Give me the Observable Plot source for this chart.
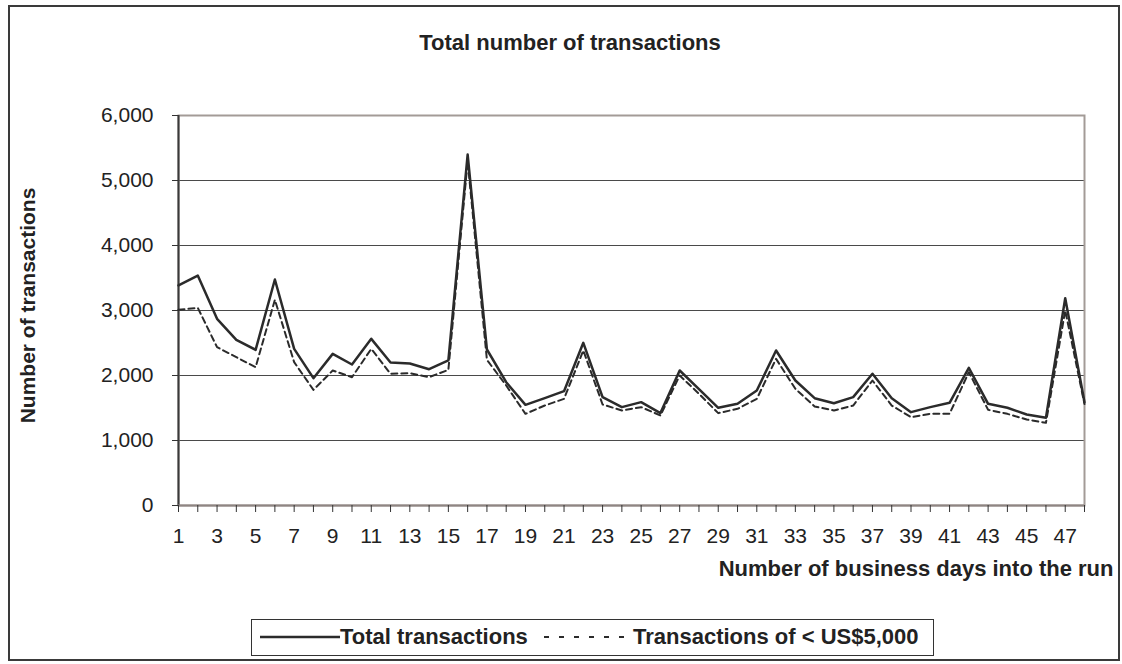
<!DOCTYPE html>
<html>
<head>
<meta charset="utf-8">
<script src="https://cdn.jsdelivr.net/npm/d3@7"></script>
<script src="https://cdn.jsdelivr.net/npm/@observablehq/plot@0.6"></script>
<style>
  html, body { margin: 0; padding: 0; background: #fff; }
  body { width: 1122px; height: 664px; position: relative; overflow: hidden;
         font-family: Arial, "Liberation Sans", sans-serif; color: #222; }
  #frame { position: absolute; left: 8px; top: 5px; width: 1112px; height: 656px;
           border: 2px solid #3a3a3a; box-sizing: border-box; }
  #title { position: absolute; left: 0; width: 1140px; top: 30px; text-align: center;
           font-weight: bold; font-size: 22px; line-height: 26px; }
  #chart { position: absolute; left: 0; top: 90px; }
  #legend { position: absolute; left: 251px; top: 619px; width: 683px; height: 37px;
            border: 1.5px solid #333; box-sizing: border-box; font-weight: bold; font-size: 22px; }
  #legend .sw { position: absolute; top: 12px; }
  #legend .lb { position: absolute; top: 4px; line-height: 26px; white-space: nowrap; }
</style>
</head>
<body>
<div id="frame"></div>
<div id="title">Total number of transactions</div>
<div id="chart"></div>
<div id="legend"></div>
<script>
// ---- data ----
const days = [1,2,3,4,5,6,7,8,9,10,11,12,13,14,15,16,17,18,19,20,21,22,23,24,
              25,26,27,28,29,30,31,32,33,34,35,36,37,38,39,40,41,42,43,44,45,46,47,48];
const totalTransactions = [3385,3538,2872,2549,2395,3477,2410,1959,2333,2169,
                           2564,2200,2185,2097,2231,5400,2400,1897,1549,1651,
                           1759,2503,1667,1513,1590,1421,2077,1790,1503,1564,
                           1769,2385,1923,1651,1574,1667,2026,1651,1436,1513,
                           1580,2118,1564,1503,1400,1349,3190,1590];
const smallTransactions = [3010,3041,2436,2282,2128,3164,2205,1779,2077,1974,
                           2410,2026,2036,1974,2087,5300,2240,1846,1410,1538,
                           1641,2385,1554,1462,1513,1385,2000,1718,1421,1487,
                           1641,2256,1795,1523,1462,1538,1923,1538,1359,1410,
                           1410,2051,1472,1410,1323,1272,3000,1560];
const yTicks = [0,1000,2000,3000,4000,5000,6000];
const xLabelTicks = [1,3,5,7,9,11,13,15,17,19,21,23,25,27,29,31,33,35,37,39,41,43,45,47];
const seriesNames = ["Total transactions", "Transactions of < US$5,000"];
const yTitle = "Number of transactions";
const xTitle = "Number of business days into the run";

const data = days.map((d, i) => ({day: d, total: totalTransactions[i], small: smallTransactions[i]}));

const ink = "#2b2b2b";
const chart = Plot.plot({
  width: 1122,
  height: 515,
  marginLeft: 178,
  marginRight: 38,
  marginTop: 25,
  marginBottom: 100,
  style: {fontFamily: "Arial, 'Liberation Sans', sans-serif", fontSize: "21px", color: "#222", background: "transparent"},
  x: {domain: [1, 48]},
  y: {domain: [0, 6000]},
  marks: [
    Plot.gridY(yTicks.filter(d => d > 0), {stroke: "#4a4a4a", strokeOpacity: 1, strokeWidth: 1}),
    Plot.frame({stroke: "#a39b97", strokeWidth: 2}),
    Plot.ruleX([1], {stroke: "#3a3a3a", strokeWidth: 2}),
    Plot.ruleY([0], {stroke: "#8f8683", strokeWidth: 2}),
    Plot.axisY(yTicks, {tickSize: 6, tickPadding: 19, tickFormat: d3.format(","), label: null, stroke: "#333", fill: "#222", fontSize: 21}),
    Plot.axisX(days, {tickSize: 7, tickFormat: () => "", label: null, stroke: "#333"}),
    Plot.axisX(xLabelTicks, {tickSize: 0, tickPadding: 23, label: null, fill: "#222", fontSize: 21}),
    Plot.text([yTitle], {frameAnchor: "left", dx: -150, dy: -5, rotate: -90, textAnchor: "middle", fontWeight: "bold", fontSize: 21, fill: "#222"}),
    Plot.text([xTitle], {frameAnchor: "bottom-right", dx: 29, dy: 70, textAnchor: "end", fontWeight: "bold", fontSize: 22, fill: "#222"}),
    Plot.lineY(data, {x: "day", y: "small", stroke: ink, strokeWidth: 2, strokeDasharray: "6,4"}),
    Plot.lineY(data, {x: "day", y: "total", stroke: ink, strokeWidth: 2.5})
  ]
});
document.getElementById("chart").appendChild(chart);

// legend
const legend = document.getElementById("legend");
legend.innerHTML =
  `<svg class="sw" style="left:8px" width="80" height="10"><line x1="0" y1="5" x2="80" y2="5" stroke="${ink}" stroke-width="2.5"/></svg>` +
  `<span class="lb" style="left:88px">${seriesNames[0]}</span>` +
  `<svg class="sw" style="left:292px" width="84" height="10"><line x1="0" y1="5" x2="84" y2="5" stroke="${ink}" stroke-width="2" stroke-dasharray="5,10"/></svg>` +
  `<span class="lb" style="left:381px">${seriesNames[1].replace("<", "&lt;")}</span>`;
</script>
</body>
</html>
